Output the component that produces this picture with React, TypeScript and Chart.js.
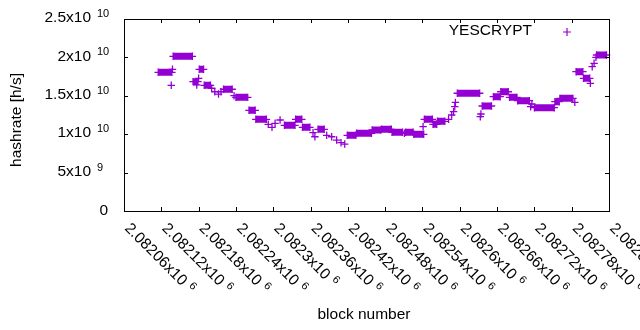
import React, { useEffect, useRef } from "react";
import { Chart, registerables } from "chart.js";

Chart.register(...registerables);

// ---- data ----
// constant-hashrate runs of consecutive blocks
const runFirstBlock = [
  2082115, 2082139, 2082171, 2082181, 2082189, 2082220, 2082240, 2082261, 2082272,
  2082318, 2082336, 2082347, 2082372, 2082419, 2082434, 2082459, 2082474, 2082491,
  2082513, 2082526, 2082543, 2082557, 2082564, 2082596, 2082636, 2082654, 2082666,
  2082680, 2082693, 2082720, 2082753, 2082761, 2082787, 2082799, 2082820,
];
const runLastBlock = [
  2082137, 2082170, 2082179, 2082188, 2082199, 2082234, 2082259, 2082271, 2082289,
  2082335, 2082346, 2082359, 2082382, 2082433, 2082458, 2082473, 2082490, 2082508,
  2082525, 2082542, 2082556, 2082563, 2082576, 2082632, 2082651, 2082665, 2082678,
  2082692, 2082712, 2082752, 2082760, 2082782, 2082798, 2082809, 2082836,
];
const runHashrate = [
  1.806e10, 2.014e10, 1.684e10, 1.845e10, 1.637e10, 1.585e10, 1.48e10, 1.311e10, 1.194e10,
  1.116e10, 1.194e10, 1.09e10, 1.064e10, 0.986e10, 1.012e10, 1.055e10, 1.064e10, 1.025e10,
  1.025e10, 0.999e10, 1.194e10, 1.129e10, 1.168e10, 1.533e10, 1.367e10, 1.488e10, 1.553e10,
  1.48e10, 1.436e10, 1.345e10, 1.423e10, 1.467e10, 1.814e10, 1.728e10, 2.031e10,
];
// single blocks
const singleBlock = [
  2082136, 2082138, 2082177, 2082180, 2082201, 2082206, 2082212, 2082216, 2082237,
  2082292, 2082298, 2082303, 2082311, 2082364, 2082367, 2082386, 2082394, 2082402,
  2082409, 2082415, 2082511, 2082541, 2082582, 2082587, 2082590, 2082592, 2082593,
  2082633, 2082634, 2082714, 2082716, 2082785, 2082810, 2082813, 2082816, 2082819,
];
const singleHashrate = [
  1.637e10, 1.845e10, 1.641e10, 1.728e10, 1.598e10, 1.553e10, 1.523e10, 1.553e10, 1.501e10,
  1.129e10, 1.09e10, 1.142e10, 1.185e10, 1.02e10, 0.967e10, 0.986e10, 0.967e10, 0.924e10,
  0.889e10, 0.872e10, 1.012e10, 1.098e10, 1.194e10, 1.25e10, 1.293e10, 1.358e10, 1.415e10,
  1.228e10, 1.263e10, 1.358e10, 1.393e10, 1.415e10, 1.663e10, 1.879e10, 1.923e10, 2.001e10,
];

const seriesName = "YESCRYPT";
const xMin = 2082060;
const xMax = 2082840;
const xTickBlocks = [
  2082060, 2082120, 2082180, 2082240, 2082300, 2082360, 2082420,
  2082480, 2082540, 2082600, 2082660, 2082720, 2082780, 2082840,
];
const xTickMantissa = [
  "2.08206x10", "2.08212x10", "2.08218x10", "2.08224x10", "2.0823x10", "2.08236x10", "2.08242x10",
  "2.08248x10", "2.08254x10", "2.0826x10", "2.08266x10", "2.08272x10", "2.08278x10", "2.08284x10",
];
const xTickExponent = "6";
const yTickValues = [0, 5e9, 1e10, 1.5e10, 2e10, 2.5e10];
const yTickMantissa = ["0", "5x10", "1x10", "1.5x10", "2x10", "2.5x10"];
const yTickExponent = ["", "9", "10", "10", "10", "10"];
const xTitle = "block number";
const yTitle = "hashrate [h/s]";

// ---- styling ----
const VIOLET = "#9400d3";
const FONT = '"Liberation Sans", Arial, sans-serif';
const BASE = 15.5;
const SUP = 11;
const TICK = 4;

const gnuplotDecor = {
  id: "gnuplotDecor",
  afterDatasetsDraw(chart: any) {
    const { ctx, chartArea: a, scales } = chart;
    const xs = scales.x;
    const ys = scales.y;
    ctx.save();
    ctx.strokeStyle = "#000";
    ctx.lineWidth = 1;
    ctx.strokeRect(
      Math.round(a.left) + 0.5,
      Math.round(a.top) + 0.5,
      Math.round(a.right - a.left),
      Math.round(a.bottom - a.top)
    );
    ctx.beginPath();
    for (const v of yTickValues) {
      const py = Math.round(ys.getPixelForValue(v)) + 0.5;
      ctx.moveTo(a.left, py);
      ctx.lineTo(a.left + TICK, py);
      ctx.moveTo(a.right, py);
      ctx.lineTo(a.right - TICK, py);
    }
    for (const v of xTickBlocks) {
      const px = Math.round(xs.getPixelForValue(v)) + 0.5;
      ctx.moveTo(px, a.bottom);
      ctx.lineTo(px, a.bottom - TICK);
      ctx.moveTo(px, a.top);
      ctx.lineTo(px, a.top + TICK);
    }
    ctx.stroke();

    ctx.fillStyle = "#000";
    ctx.textBaseline = "middle";
    // y tick labels
    yTickValues.forEach((v, i) => {
      const py = ys.getPixelForValue(v);
      if (yTickExponent[i]) {
        ctx.font = `${BASE}px ${FONT}`;
        ctx.textAlign = "right";
        ctx.fillText(yTickMantissa[i], a.left - 33, py - 1);
        ctx.font = `${SUP}px ${FONT}`;
        ctx.textAlign = "left";
        ctx.fillText(yTickExponent[i], a.left - 27, py - 5);
      } else {
        ctx.font = `${BASE}px ${FONT}`;
        ctx.textAlign = "right";
        ctx.fillText(yTickMantissa[i], a.left - 16, py);
      }
    });
    // x tick labels, rotated
    xTickBlocks.forEach((v, i) => {
      const px = xs.getPixelForValue(v);
      ctx.save();
      ctx.translate(px + 3, a.bottom + 15);
      ctx.rotate(Math.PI / 4);
      ctx.font = `${BASE}px ${FONT}`;
      ctx.textAlign = "left";
      ctx.fillText(xTickMantissa[i], 0, 0);
      const w = ctx.measureText(xTickMantissa[i]).width;
      ctx.font = `${SUP}px ${FONT}`;
      ctx.fillText(xTickExponent, w + 5, -4);
      ctx.restore();
    });
    // axis titles
    ctx.font = `${BASE}px ${FONT}`;
    ctx.textAlign = "center";
    ctx.fillText(xTitle, 364, 315);
    ctx.save();
    ctx.translate(17, 120);
    ctx.rotate(-Math.PI / 2);
    ctx.fillText(yTitle, 0, 0);
    ctx.restore();
    // key
    ctx.textAlign = "right";
    ctx.fillText(seriesName, a.right - 77, a.top + 12);
    ctx.strokeStyle = VIOLET;
    ctx.lineWidth = 1.2;
    ctx.beginPath();
    const kx = a.right - 42;
    const ky = a.top + 13;
    ctx.moveTo(kx - 4, ky);
    ctx.lineTo(kx + 4, ky);
    ctx.moveTo(kx, ky - 4);
    ctx.lineTo(kx, ky + 4);
    ctx.stroke();
    ctx.restore();
  },
};

export default function App() {
  const ref = useRef<HTMLCanvasElement | null>(null);
  useEffect(() => {
    if (!ref.current) return;
    const runPoints: any[] = [];
    runFirstBlock.forEach((b, i) => {
      runPoints.push({ x: b, y: runHashrate[i] });
      runPoints.push({ x: runLastBlock[i], y: runHashrate[i] });
      runPoints.push({ x: runLastBlock[i], y: null });
    });
    const singles = singleBlock.map((b, i) => ({ x: b, y: singleHashrate[i] }));
    const chart = new Chart(ref.current, {
      type: "line",
      data: {
        datasets: [
          {
            label: seriesName,
            data: runPoints,
            borderColor: VIOLET,
            backgroundColor: VIOLET,
            borderWidth: 7,
            borderCapStyle: "butt",
            spanGaps: false,
            pointStyle: "cross",
            pointRadius: 3.7,
            pointBorderWidth: 1.3,
            pointBorderColor: VIOLET,
            clip: false,
          } as any,
          {
            label: seriesName + " single",
            data: singles,
            showLine: false,
            borderColor: VIOLET,
            backgroundColor: VIOLET,
            pointStyle: "cross",
            pointRadius: 3.7,
            pointBorderWidth: 1.3,
            pointBorderColor: VIOLET,
            clip: false,
          } as any,
        ],
      },
      options: {
        responsive: false,
        animation: false,
        events: [],
        layout: { padding: { left: 0, top: 19, right: 31, bottom: 0 } },
        plugins: { legend: { display: false }, tooltip: { enabled: false } },
        scales: {
          x: {
            type: "linear",
            min: xMin,
            max: xMax,
            ticks: { display: false },
            grid: { display: false, drawTicks: false },
            border: { display: false },
            afterFit: (s: any) => {
              s.height = 119;
            },
          },
          y: {
            type: "linear",
            min: 0,
            max: 2.5e10,
            ticks: { display: false },
            grid: { display: false, drawTicks: false },
            border: { display: false },
            afterFit: (s: any) => {
              s.width = 124;
            },
          },
        },
      },
      plugins: [gnuplotDecor],
    });
    return () => chart.destroy();
  }, []);
  return (
    <div style={{ position: "fixed", left: 0, top: 0, width: 640, height: 330, background: "#fff" }}>
      <canvas ref={ref} width={640} height={330} style={{ display: "block" }} />
    </div>
  );
}
